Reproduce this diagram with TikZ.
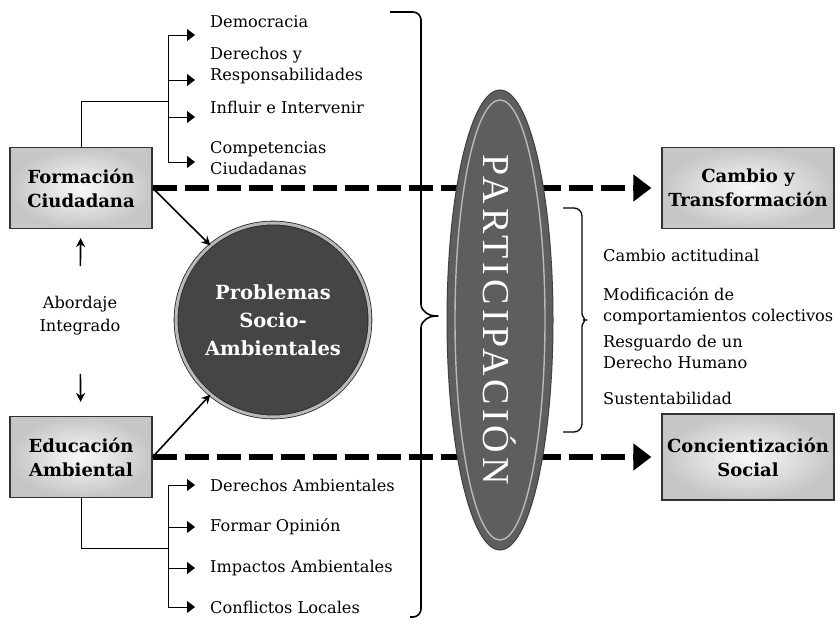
\documentclass[tikz,border=0pt]{standalone}
\usepackage{fontspec}
\setmainfont{DejaVu Serif}
\newfontfamily\partfont[LetterSpace=11]{Liberation Serif}
\usetikzlibrary{arrows.meta,positioning,shapes.geometric}

\begin{document}
\begin{tikzpicture}[x=1pt, y=-1pt,
  box/.style={draw=black!80, line width=1.2pt, inner color=gray!5, outer color=gray!45, align=center, font=\fontsize{18}{24}\selectfont\bfseries, minimum width=142pt, minimum height=81pt},
  leaf/.style={anchor=west, align=left, font=\fontsize{16.2}{21}\selectfont, inner sep=2pt},
  tline/.style={line width=0.9pt},
  tarr/.style={line width=0.9pt, -{Triangle[length=8pt,width=12pt]}, shorten >=13pt},
  dasharr/.style={line width=6pt, dash pattern=on 24pt off 8pt, -{Triangle[length=18pt,width=26pt]}, shorten >=10pt},
  arr/.style={line width=1.6pt, -{Stealth[length=9pt,width=9pt]}},
  brace/.style={line width=1.6pt, rounded corners=8pt}
]
\useasboundingbox (0,0) rectangle (837,620);

% braces
\draw[brace] (390,12) -- (421,12) -- (421,296) .. controls (421,312) and (430,316) .. (443,316)
  .. controls (430,316) and (421,320) .. (421,336) -- (421,617) -- (410,617);
\draw[brace, line width=1.3pt] (563,208) -- (582,208) -- (582,306) .. controls (582,316) and (586,320) .. (592,320)
  .. controls (586,320) and (582,324) .. (582,334) -- (582,432) -- (563,432);

% main boxes
\node[box] (fc) at (81,188) {Formación\\Ciudadana};
\node[box] (ea) at (81,457) {Educación\\Ambiental};
\node[box, minimum width=172pt] (ct) at (748,188) {Cambio y\\Transformación};
\node[box, minimum width=172pt, minimum height=86pt] (cs) at (748,457) {Concientización\\Social};

\draw[dasharr] (fc.east) -- (ct.west);
\draw[dasharr] (ea.east) -- (cs.west);

% participacion
\node[ellipse, minimum width=106pt, minimum height=460pt, fill=black!63, draw=black!75, line width=1pt] (part) at (500,320) {};
\draw[gray!55, line width=1.4pt] (part.center) ellipse (45pt and 220pt);
\node[rotate=-90, text=white, font=\partfont\fontsize{38}{38}\selectfont] (ptxt) at (part.center) {PARTICIPACIÓN};

\node[circle, minimum size=194pt, fill=black!73, draw=black!85, double=gray!55, double distance=3pt, line width=0.8pt,
  text=white, align=center, font=\fontsize{19.5}{28}\selectfont\bfseries] (ps) at (273,320) {Problemas\\Socio-\\Ambientales};
\draw[arr] (fc.east) -- (ps.130);
\draw[arr] (ea.east) -- (ps.230);

\node[font=\fontsize{16.2}{23}\selectfont, align=center] (ai) at (80,316) {Abordaje\\Integrado};
\draw[arr, shorten <=27pt, shorten >=9pt] (ai) -- (fc);
\draw[arr, shorten <=35pt, shorten >=14pt] (ai) -- (ea);

% ramas
\node[leaf] (dem) at (208,22) {Democracia};
\node[leaf] (der) at (208,66) {Derechos y\\Responsabilidades};
\node[leaf] (inf) at (208,107) {Influir e Intervenir};
\node[leaf] (com) at (208,158) {Competencias\\Ciudadanas};
\node[leaf] (dam) at (208,485) {Derechos Ambientales};
\node[leaf] (fop) at (208,527) {Formar Opinión};
\node[leaf] (iam) at (208,568) {Impactos Ambientales};
\node[leaf] (clo) at (208,607) {Conflictos Locales};

\draw[tline] (fc.north) |- (168,101);
\draw[tline] (168,35) -- (168,162);
\draw[tline] (ea.south) |- (168,548);
\draw[tline] (168,485) -- (168,607);
\foreach \n/\y in {dem/35,der/80,inf/117,com/162,dam/485,fop/527,iam/568,clo/607}
  \draw[tarr] (168,\y) -- (\n.west |- 168,\y);

\node[leaf] (r1) at (601,255) {Cambio actitudinal};
\node[leaf] (r2) at (601,306) {Modificación de\\comportamientos colectivos};
\node[leaf] (r3) at (601,352) {Resguardo de un\\Derecho Humano};
\node[leaf] (r4) at (601,398) {Sustentabilidad};
\end{tikzpicture}
\end{document}
